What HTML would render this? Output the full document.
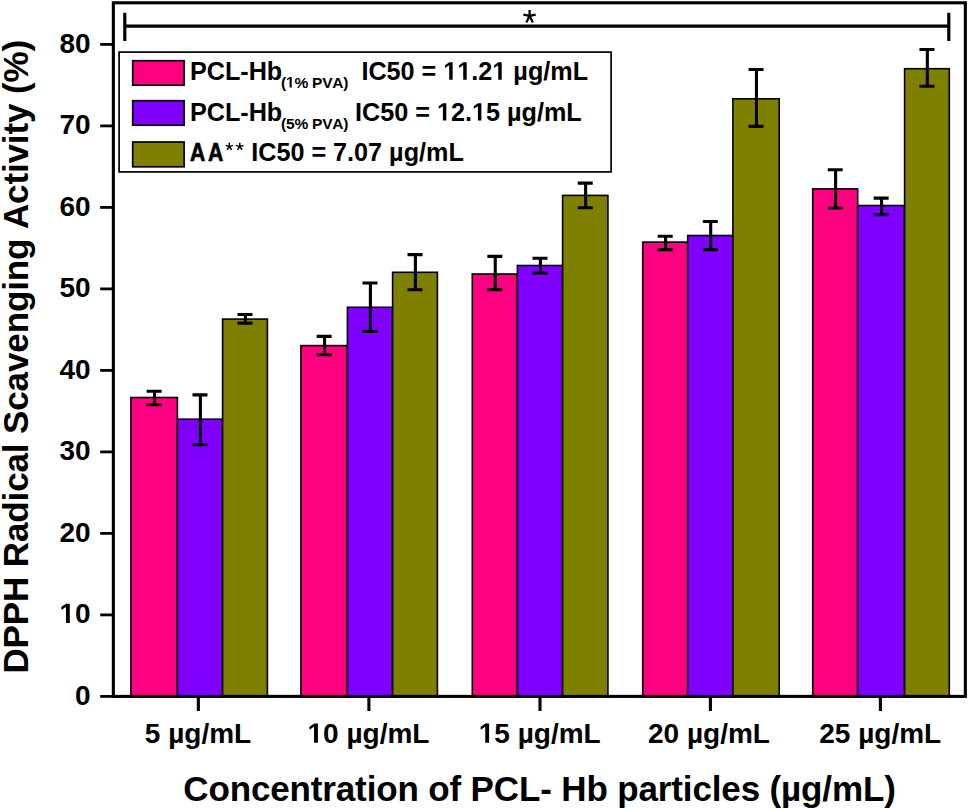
<!DOCTYPE html>
<html><head><meta charset="utf-8"><style>
html,body{margin:0;padding:0;background:#fff;}
body{width:968px;height:810px;overflow:hidden;}
svg{display:block;}
text{font-family:"Liberation Sans",sans-serif;font-weight:bold;fill:#000;font-kerning:none;}
.o{fill:transparent;}
.t{font-size:28px;}
.lg{font-size:25.2px;}
.sub{font-size:15.5px;letter-spacing:-0.2px;}
.ti{font-size:35px;letter-spacing:-0.14px;}
.ty{letter-spacing:-0.12px;}
</style></head><body>
<svg width="968" height="810" viewBox="0 0 968 810">
<rect width="968" height="810" fill="#fff"/>
<rect x="130.90" y="397.50" width="46.50" height="298.90" fill="#ff0080" stroke="#000" stroke-width="1.6"/>
<rect x="177.40" y="419.20" width="45.20" height="277.20" fill="#8000ff" stroke="#000" stroke-width="1.6"/>
<rect x="222.60" y="319.10" width="44.80" height="377.30" fill="#808000" stroke="#000" stroke-width="1.6"/>
<rect x="300.90" y="345.60" width="46.50" height="350.80" fill="#ff0080" stroke="#000" stroke-width="1.6"/>
<rect x="347.40" y="307.30" width="45.20" height="389.10" fill="#8000ff" stroke="#000" stroke-width="1.6"/>
<rect x="392.60" y="272.30" width="44.80" height="424.10" fill="#808000" stroke="#000" stroke-width="1.6"/>
<rect x="472.30" y="274.00" width="45.10" height="422.40" fill="#ff0080" stroke="#000" stroke-width="1.6"/>
<rect x="517.40" y="265.50" width="45.20" height="430.90" fill="#8000ff" stroke="#000" stroke-width="1.6"/>
<rect x="562.60" y="195.40" width="45.30" height="501.00" fill="#808000" stroke="#000" stroke-width="1.6"/>
<rect x="642.70" y="242.10" width="45.00" height="454.30" fill="#ff0080" stroke="#000" stroke-width="1.6"/>
<rect x="687.70" y="235.50" width="45.20" height="460.90" fill="#8000ff" stroke="#000" stroke-width="1.6"/>
<rect x="732.90" y="98.80" width="46.30" height="597.60" fill="#808000" stroke="#000" stroke-width="1.6"/>
<rect x="812.70" y="188.90" width="45.00" height="507.50" fill="#ff0080" stroke="#000" stroke-width="1.6"/>
<rect x="857.70" y="205.50" width="46.90" height="490.90" fill="#8000ff" stroke="#000" stroke-width="1.6"/>
<rect x="904.60" y="68.70" width="44.70" height="627.70" fill="#808000" stroke="#000" stroke-width="1.6"/>
<path d="M154.55 391.30V404.70M146.65 391.30H161.65M146.65 404.70H161.65" stroke="#000" stroke-width="3.1" fill="none"/>
<path d="M200.40 394.90V444.70M192.50 394.90H207.50M192.50 444.70H207.50" stroke="#000" stroke-width="3.1" fill="none"/>
<path d="M245.40 314.50V323.10M237.50 314.50H252.50M237.50 323.10H252.50" stroke="#000" stroke-width="3.1" fill="none"/>
<path d="M324.55 336.40V354.70M316.65 336.40H331.65M316.65 354.70H331.65" stroke="#000" stroke-width="3.1" fill="none"/>
<path d="M370.40 283.00V331.50M362.50 283.00H377.50M362.50 331.50H377.50" stroke="#000" stroke-width="3.1" fill="none"/>
<path d="M415.40 254.60V289.80M407.50 254.60H422.50M407.50 289.80H422.50" stroke="#000" stroke-width="3.1" fill="none"/>
<path d="M495.25 256.40V289.70M487.35 256.40H502.35M487.35 289.70H502.35" stroke="#000" stroke-width="3.1" fill="none"/>
<path d="M540.40 258.20V273.00M532.50 258.20H547.50M532.50 273.00H547.50" stroke="#000" stroke-width="3.1" fill="none"/>
<path d="M585.65 183.10V207.80M577.75 183.10H592.75M577.75 207.80H592.75" stroke="#000" stroke-width="3.1" fill="none"/>
<path d="M665.60 236.30V249.60M657.70 236.30H672.70M657.70 249.60H672.70" stroke="#000" stroke-width="3.1" fill="none"/>
<path d="M710.70 221.50V249.60M702.80 221.50H717.80M702.80 249.60H717.80" stroke="#000" stroke-width="3.1" fill="none"/>
<path d="M756.45 69.50V126.40M748.55 69.50H763.55M748.55 126.40H763.55" stroke="#000" stroke-width="3.1" fill="none"/>
<path d="M835.60 169.70V208.00M827.70 169.70H842.70M827.70 208.00H842.70" stroke="#000" stroke-width="3.1" fill="none"/>
<path d="M881.55 198.10V214.60M873.65 198.10H888.65M873.65 214.60H888.65" stroke="#000" stroke-width="3.1" fill="none"/>
<path d="M927.35 49.50V86.30M919.45 49.50H934.45M919.45 86.30H934.45" stroke="#000" stroke-width="3.1" fill="none"/>
<rect x="113.35" y="2.8" width="852.00" height="693.60" fill="none" stroke="#000" stroke-width="3.1"/>
<path d="M100.2 696.40H113.35" stroke="#000" stroke-width="2.8"/>
<text id="t1" x="90.6" y="704.5" class="t" text-anchor="end">0</text>
<path d="M100.2 614.90H113.35" stroke="#000" stroke-width="2.8"/>
<text id="t2" x="90.6" y="623.0" class="t" text-anchor="end"><tspan class="o">1</tspan>0</text>
<path d="M478 0L478 1170L140 959L140 1180L493 1409L759 1409L759 0Z" transform="translate(59.44 623.00) scale(0.01367 -0.01367)"/>
<path d="M100.2 533.40H113.35" stroke="#000" stroke-width="2.8"/>
<text id="t3" x="90.6" y="541.5" class="t" text-anchor="end">20</text>
<path d="M100.2 451.90H113.35" stroke="#000" stroke-width="2.8"/>
<text id="t4" x="90.6" y="460.0" class="t" text-anchor="end">30</text>
<path d="M100.2 370.40H113.35" stroke="#000" stroke-width="2.8"/>
<text id="t5" x="90.6" y="378.5" class="t" text-anchor="end">40</text>
<path d="M100.2 288.90H113.35" stroke="#000" stroke-width="2.8"/>
<text id="t6" x="90.6" y="297.0" class="t" text-anchor="end">50</text>
<path d="M100.2 207.40H113.35" stroke="#000" stroke-width="2.8"/>
<text id="t7" x="90.6" y="215.5" class="t" text-anchor="end">60</text>
<path d="M100.2 125.90H113.35" stroke="#000" stroke-width="2.8"/>
<text id="t8" x="90.6" y="134.0" class="t" text-anchor="end">70</text>
<path d="M100.2 44.40H113.35" stroke="#000" stroke-width="2.8"/>
<text id="t9" x="90.6" y="52.5" class="t" text-anchor="end">80</text>
<path d="M198.35 696.4V711" stroke="#000" stroke-width="3.1"/>
<text id="t10" x="198" y="742.8" class="t" text-anchor="middle">5 µg/mL</text>
<path d="M368.90 696.4V711" stroke="#000" stroke-width="3.1"/>
<text id="t11" x="368.5" y="742.8" class="t" text-anchor="middle"><tspan class="o">1</tspan>0 µg/mL</text>
<path d="M478 0L478 1170L140 959L140 1180L493 1409L759 1409L759 0Z" transform="translate(307.52 742.80) scale(0.01367 -0.01367)"/>
<path d="M540.00 696.4V711" stroke="#000" stroke-width="3.1"/>
<text id="t12" x="539.7" y="742.8" class="t" text-anchor="middle"><tspan class="o">1</tspan>5 µg/mL</text>
<path d="M478 0L478 1170L140 959L140 1180L493 1409L759 1409L759 0Z" transform="translate(478.72 742.80) scale(0.01367 -0.01367)"/>
<path d="M710.40 696.4V711" stroke="#000" stroke-width="3.1"/>
<text id="t13" x="709" y="742.8" class="t" text-anchor="middle">20 µg/mL</text>
<path d="M880.40 696.4V711" stroke="#000" stroke-width="3.1"/>
<text id="t14" x="880.2" y="742.8" class="t" text-anchor="middle">25 µg/mL</text>
<path d="M124.8 12.8V40.9M124.8 26.2H948.8M948.8 12.8V40.9" stroke="#000" stroke-width="3.2" fill="none"/>
<path d="M529.6 15.8V9.9M529.6 15.8L523.4 14.7M529.6 15.8L535.7 14.7M529.6 15.8L526.3 22.4M529.6 15.8L532.9 22.4" stroke="#000" stroke-width="2.3" fill="none"/>
<rect x="119.1" y="52.1" width="492" height="119.8" fill="#fff" stroke="#000" stroke-width="1.7"/>
<rect x="132.7" y="60.70" width="51.4" height="24.50" fill="#ff0080" stroke="#000" stroke-width="1.7"/>
<rect x="132.7" y="100.70" width="51.4" height="24.50" fill="#8000ff" stroke="#000" stroke-width="1.7"/>
<rect x="132.7" y="142.00" width="51.4" height="24.80" fill="#808000" stroke="#000" stroke-width="1.7"/>
<text id="t15" x="189.9" y="79.7" class="lg">PCL-Hb</text>
<text id="t16" x="281.0" y="87.6" class="sub">(<tspan class="o">1</tspan>% PVA)</text>
<path d="M478 0L478 1170L140 959L140 1180L493 1409L759 1409L759 0Z" transform="translate(285.97 87.60) scale(0.00757 -0.00757)"/>
<text id="t17" x="361.4" y="79.7" class="lg">IC50 = <tspan class="o">1</tspan><tspan class="o">1</tspan>.2<tspan class="o">1</tspan> µg/mL</text>
<path d="M478 0L478 1170L140 959L140 1180L493 1409L759 1409L759 0Z" transform="translate(443.32 79.70) scale(0.01230 -0.01230)"/>
<path d="M478 0L478 1170L140 959L140 1180L493 1409L759 1409L759 0Z" transform="translate(457.34 79.70) scale(0.01230 -0.01230)"/>
<path d="M478 0L478 1170L140 959L140 1180L493 1409L759 1409L759 0Z" transform="translate(492.37 79.70) scale(0.01230 -0.01230)"/>
<text id="t18" x="189.9" y="120.6" class="lg">PCL-Hb</text>
<text id="t19" x="281.0" y="128.5" class="sub">(5% PVA)</text>
<text id="t20" x="355.1" y="120.6" class="lg">IC50 = <tspan class="o">1</tspan>2.<tspan class="o">1</tspan>5 µg/mL</text>
<path d="M478 0L478 1170L140 959L140 1180L493 1409L759 1409L759 0Z" transform="translate(437.02 120.60) scale(0.01230 -0.01230)"/>
<path d="M478 0L478 1170L140 959L140 1180L493 1409L759 1409L759 0Z" transform="translate(472.05 120.60) scale(0.01230 -0.01230)"/>
<text transform="translate(189.9 161.2) scale(0.84 1)" x="0" y="0" class="lg" stroke="#000" stroke-width="0.7">A</text>
<text transform="translate(208.1 161.2) scale(0.84 1)" x="0" y="0" class="lg" stroke="#000" stroke-width="0.7">A</text>
<path d="M229.30 146.60L229.30 142.70M229.30 146.60L225.59 145.39M229.30 146.60L227.01 149.76M229.30 146.60L231.59 149.76M229.30 146.60L233.01 145.39" stroke="#000" stroke-width="1.5" stroke-linecap="butt" fill="none"/>
<path d="M239.80 146.60L239.80 142.70M239.80 146.60L236.09 145.39M239.80 146.60L237.51 149.76M239.80 146.60L242.09 149.76M239.80 146.60L243.51 145.39" stroke="#000" stroke-width="1.5" stroke-linecap="butt" fill="none"/>
<text id="t21" x="251.2" y="161.2" class="lg">IC50 = 7.07 µg/mL</text>
<text id="t22" x="183.3" y="801.3" class="ti">Concentration of PCL- Hb particles (µg/mL)</text>
<text transform="translate(28 673.6) rotate(-90)" x="0" y="0" class="ti ty">DPPH Radical Scavenging Activity (%)</text>
</svg>
</body></html>
